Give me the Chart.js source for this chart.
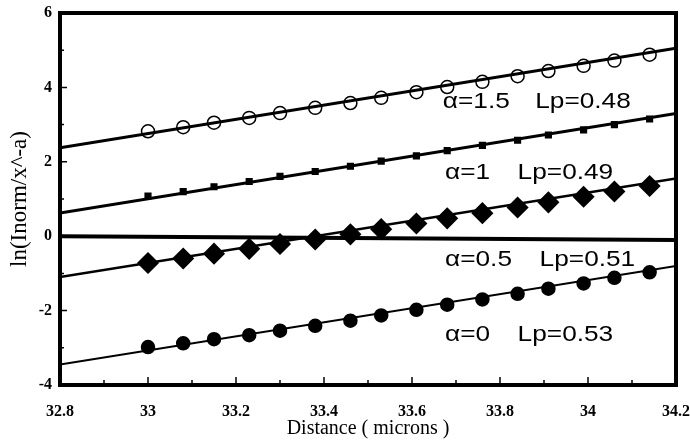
<!DOCTYPE html>
<html>
<head>
<meta charset="utf-8">
<script src="https://cdn.jsdelivr.net/npm/chart.js@4.4.0/dist/chart.umd.min.js"></script>
<style>
  html, body { margin: 0; padding: 0; background: #fff; }
  #wrap { width: 690px; height: 442px; }
</style>
</head>
<body>
<div id="wrap"><canvas id="chart"></canvas></div>
<script>
// Distance along the profile (microns)
const distance = [33.00, 33.08, 33.15, 33.23, 33.30, 33.38, 33.46, 33.53, 33.61, 33.68, 33.76, 33.84, 33.91, 33.99, 34.06, 34.14];

// ln(Inorm/x^-a) for each alpha
const alpha15 = [2.82, 2.93, 3.05, 3.18, 3.31, 3.45, 3.58, 3.72, 3.87, 4.01, 4.15, 4.30, 4.44, 4.58, 4.72, 4.88];
const alpha1  = [1.08, 1.20, 1.33, 1.47, 1.61, 1.74, 1.88, 2.02, 2.16, 2.30, 2.44, 2.58, 2.72, 2.86, 3.00, 3.15];
const alpha05 = [-0.72, -0.60, -0.47, -0.34, -0.21, -0.09, 0.05, 0.19, 0.34, 0.48, 0.62, 0.77, 0.91, 1.06, 1.20, 1.35];
const alpha0  = [-2.98, -2.88, -2.77, -2.66, -2.54, -2.41, -2.27, -2.13, -1.98, -1.84, -1.70, -1.55, -1.41, -1.27, -1.12, -0.97];

// straight-line fits, evaluated at both ends of the axis
const fitX = [32.8, 34.2];
const fit15 = [2.38, 5.05];
const fit1 = [0.62, 3.30];
const fit05 = [-1.10, 1.55];
const fit0 = [-3.45, -0.80];
const baseline = [0.0, -0.1];

const xTicks = [32.8, 33, 33.2, 33.4, 33.6, 33.8, 34, 34.2];
const yTicks = [-4, -2, 0, 2, 4, 6];

const alphaLabels = ['\u03b1=1.5', '\u03b1=1', '\u03b1=0.5', '\u03b1=0'];
const lpLabels = ['Lp=0.48', 'Lp=0.49', 'Lp=0.51', 'Lp=0.53'];

// where the fit labels sit (data units)
const labelSpots = [
    { x: 33.67, lpX: 33.88, y: 3.44 },
    { x: 33.675, lpX: 33.84, y: 1.53 },
    { x: 33.675, lpX: 33.89, y: -0.81 },
    { x: 33.675, lpX: 33.84, y: -2.82 }
];

function pts(xs, ys) {
    return xs.map((x, i) => ({ x: x, y: ys[i] }));
}

function fitLine(ys, width) {
    return {
        type: 'line',
        data: pts(fitX, ys),
        borderColor: '#000',
        borderWidth: width,
        pointRadius: 0,
        showLine: true
    };
}

function markers(ys, style, radius, fill) {
    return {
        data: pts(distance, ys),
        showLine: false,
        pointStyle: style,
        pointRadius: radius,
        pointHoverRadius: radius,
        pointBorderColor: '#000',
        pointBorderWidth: 1.5,
        pointBackgroundColor: fill
    };
}

function wideText(ctx, text, px, py) {
    ctx.save();
    ctx.translate(px, py);
    ctx.scale(1.25, 1.05);
    ctx.fillText(text, 0, 0);
    ctx.restore();
}

const frameAndLabels = {
    id: 'frameAndLabels',
    afterDatasetsDraw(chart) {
        const ctx = chart.ctx;
        const a = chart.chartArea;
        const x = chart.scales.x;
        const y = chart.scales.y;
        ctx.save();
        ctx.strokeStyle = '#000';
        ctx.lineWidth = 1.5;
        ctx.beginPath();
        xTicks.forEach((v, i) => {
            const px = x.getPixelForValue(v);
            ctx.moveTo(px, a.bottom);
            ctx.lineTo(px, a.bottom - 8);
            if (i < xTicks.length - 1) {
                const mx = x.getPixelForValue((v + xTicks[i + 1]) / 2);
                ctx.moveTo(mx, a.bottom);
                ctx.lineTo(mx, a.bottom - 5);
            }
        });
        yTicks.forEach((v, i) => {
            const py = y.getPixelForValue(v);
            ctx.moveTo(a.left, py);
            ctx.lineTo(a.left + 7, py);
            if (i < yTicks.length - 1) {
                const my = y.getPixelForValue((v + yTicks[i + 1]) / 2);
                ctx.moveTo(a.left, my);
                ctx.lineTo(a.left + 4, my);
            }
        });
        ctx.stroke();

        ctx.lineWidth = 4;
        ctx.strokeRect(a.left, a.top, a.width, a.height);

        ctx.fillStyle = '#000';
        ctx.font = '21px "Liberation Sans", Arial, sans-serif';
        ctx.textBaseline = 'alphabetic';
        ctx.textAlign = 'left';
        alphaLabels.forEach((t, i) => {
            const s = labelSpots[i];
            const py = y.getPixelForValue(s.y);
            wideText(ctx, t, x.getPixelForValue(s.x), py);
            wideText(ctx, lpLabels[i], x.getPixelForValue(s.lpX), py);
        });
        ctx.restore();
    }
};

const serif = '"Liberation Serif", "Times New Roman", serif';

new Chart(document.getElementById('chart'), {
    type: 'scatter',
    data: {
        datasets: [
            fitLine(baseline, 4),
            fitLine(fit15, 3),
            fitLine(fit1, 3),
            fitLine(fit05, 2.5),
            fitLine(fit0, 2),
            markers(alpha15, 'circle', 6.5, 'rgba(0,0,0,0)'),
            markers(alpha1, 'rect', 4, '#000'),
            markers(alpha05, 'rectRot', 10, '#000'),
            markers(alpha0, 'circle', 6.5, '#000')
        ]
    },
    options: {
        responsive: true,
        maintainAspectRatio: false,
        animation: false,
        layout: { padding: { top: 13, right: 0, left: 0, bottom: 0 } },
        plugins: {
            legend: { display: false },
            tooltip: { enabled: false }
        },
        scales: {
            x: {
                type: 'linear',
                min: 32.8,
                max: 34.2,
                afterBuildTicks: s => { s.ticks = xTicks.map(v => ({ value: v })); },
                afterFit: s => { s.height = 57; s.paddingRight = 14; s.paddingLeft = 0; },
                grid: { display: false },
                border: { display: false },
                ticks: {
                    color: '#000',
                    padding: 9,
                    maxRotation: 0,
                    font: { family: serif, size: 16, weight: 'bold' },
                    callback: v => String(+v.toFixed(1))
                },
                title: {
                    display: true,
                    text: 'Distance ( microns )',
                    color: '#000',
                    font: { family: serif, size: 20 },
                    padding: { top: 0, bottom: 1 }
                }
            },
            y: {
                type: 'linear',
                min: -4,
                max: 6,
                afterBuildTicks: s => { s.ticks = yTicks.map(v => ({ value: v })); },
                afterFit: s => { s.width = 60; s.paddingTop = 0; s.paddingBottom = 0; },
                grid: { display: false },
                border: { display: false },
                ticks: {
                    color: '#000',
                    padding: 0,
                    font: { family: serif, size: 16, weight: 'bold' }
                },
                title: {
                    display: true,
                    text: 'ln(Inorm/x^-a)',
                    color: '#000',
                    font: { family: serif, size: 23 },
                    padding: { top: 6, bottom: 0 }
                }
            }
        }
    },
    plugins: [frameAndLabels]
});
</script>
</body>
</html>
